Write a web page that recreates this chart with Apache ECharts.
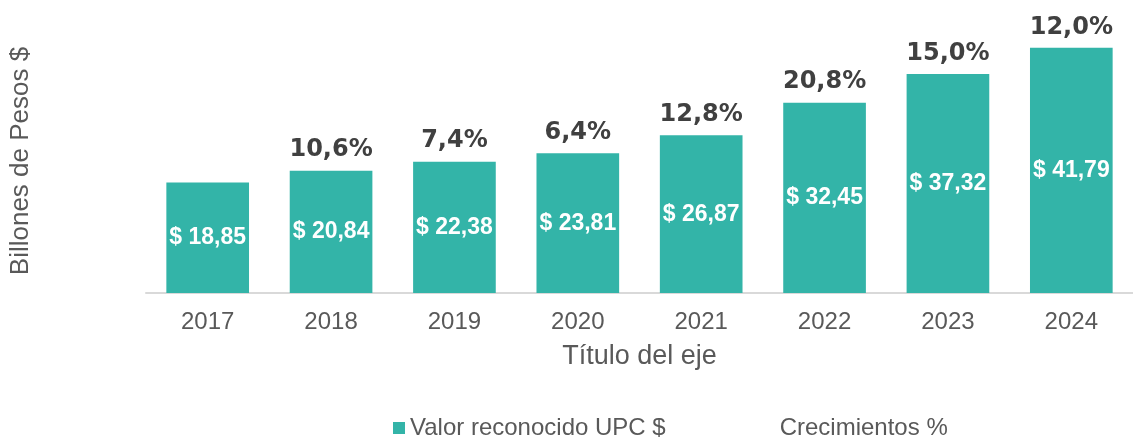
<!DOCTYPE html>
<html>
<head>
<meta charset="utf-8">
<script src="https://cdn.jsdelivr.net/npm/echarts@6/dist/echarts.min.js"></script>
<style>
  html, body { margin: 0; padding: 0; background: #fff; }
  #chart { width: 1133px; height: 439px; }
</style>
</head>
<body>
<div id="chart"></div>
<script>
// datos del gráfico
const years = ['2017', '2018', '2019', '2020', '2021', '2022', '2023', '2024']
const upcValues = [18.85, 20.84, 22.38, 23.81, 26.87, 32.45, 37.32, 41.79]
const growth = [null, 10.6, 7.4, 6.4, 12.8, 20.8, 15.0, 12.0]

const fmt = (v, d) => v.toFixed(d).replace('.', ',')

const chart = echarts.init(document.getElementById('chart'))
const option = {
  animation: false,
  textStyle: { fontFamily: 'Liberation Sans, Arial, sans-serif' },
  grid: { left: 145, right: 0, top: 29, bottom: 146 },
  legend: {
    left: 388,
    top: 411,
    itemWidth: 12,
    itemHeight: 12,
    itemGap: 97,
    textStyle: { fontSize: 24, color: '#595959', fontFamily: 'Liberation Sans' },
    data: [
      { name: 'Valor reconocido UPC $', icon: 'rect' },
      { name: 'Crecimientos %', icon: 'none' }
    ]
  },
  xAxis: {
    type: 'category',
    data: years,
    name: 'Título del eje',
    nameLocation: 'middle',
    nameGap: 50,
    nameTextStyle: { fontSize: 27, color: '#595959' },
    axisLine: { lineStyle: { color: '#d9d9d9', width: 2 } },
    axisTick: { show: false },
    axisLabel: { fontSize: 24, color: '#595959', margin: 17 }
  },
  yAxis: {
    type: 'value',
    min: 0,
    max: 45,
    name: 'Billones de Pesos $',
    nameLocation: 'middle',
    nameRotate: 90,
    nameGap: 112,
    nameTextStyle: { fontSize: 26, color: '#595959' },
    axisLine: { show: false },
    axisTick: { show: false },
    axisLabel: { show: false },
    splitLine: { show: false }
  },
  series: [
    {
      name: 'Valor reconocido UPC $',
      type: 'bar',
      data: upcValues,
      barWidth: '67%',
      itemStyle: { color: '#33B4A8' },
      label: {
        show: true,
        position: 'inside',
        color: '#fff',
        fontSize: 23,
        fontWeight: 'bold',
        formatter: p => '$ ' + fmt(p.value, 2)
      }
    },
    {
      // la serie de crecimientos sólo muestra etiquetas sobre las barras
      name: 'Crecimientos %',
      type: 'line',
      data: upcValues,
      symbol: 'circle',
      symbolSize: 1,
      showSymbol: true,
      lineStyle: { opacity: 0 },
      itemStyle: { color: 'rgba(0,0,0,0)' },
      label: {
        show: true,
        position: 'top',
        distance: 8,
        color: '#404040',
        fontSize: 24,
        fontWeight: 'bold',
        fontFamily: 'DejaVu Sans',
        formatter: p => growth[p.dataIndex] == null ? '' : fmt(growth[p.dataIndex], 1) + '%'
      }
    }
  ]
}
chart.setOption(option)
</script>
</body>
</html>
